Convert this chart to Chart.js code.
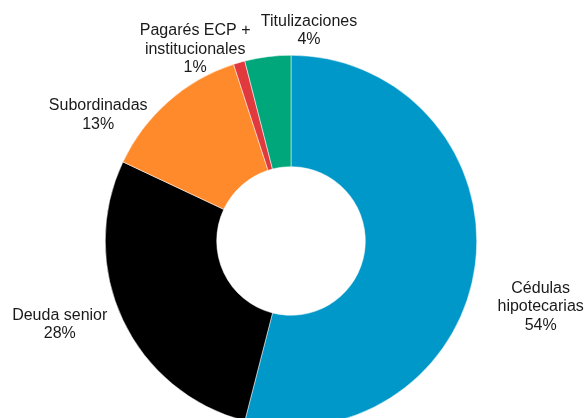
<!DOCTYPE html>
<html>
<head>
<meta charset="utf-8">
<script src="https://cdn.jsdelivr.net/npm/chart.js@4/dist/chart.umd.min.js"></script>
<style>
  html, body { margin: 0; padding: 0; background: #fff; overflow: hidden; }
  #wrap { position: relative; width: 585px; height: 427px; }
</style>
</head>
<body>
<div id="wrap"><canvas id="fundingchart"></canvas></div>
<script>
// Funding mix by instrument
const categories = [
  "Cédulas\nhipotecarias",
  "Deuda senior",
  "Subordinadas",
  "Pagarés ECP +\ninstitucionales",
  "Titulizaciones",
];
const shares = [54, 28, 13, 1, 4];
const sliceColors = ["#0098C9", "#000000", "#FF8A2B", "#E0393E", "#00A77B"];

// label block centres, as multiples of the outer radius from the chart centre
const labelSpots = [
  [1.344, 0.355],
  [-1.245, 0.449],
  [-1.038, -0.677],
  [-0.516, -1.032],
  [0.097, -1.134],
];

const outsideLabels = {
  id: "outsideLabels",
  afterDraw(chart) {
    const ctx = chart.ctx;
    const arc = chart.getDatasetMeta(0).data[0];
    const cx = arc.x, cy = arc.y, r = arc.outerRadius;
    const lineH = 18.5;
    ctx.save();
    ctx.font = '16px "Liberation Sans", Arial, sans-serif';
    ctx.fillStyle = "#1a1a1a";
    ctx.textAlign = "center";
    ctx.textBaseline = "middle";
    categories.forEach((name, i) => {
      const lines = name.split("\n").concat([shares[i] + "%"]);
      const x = cx + labelSpots[i][0] * r;
      const y0 = cy + labelSpots[i][1] * r - ((lines.length - 1) * lineH) / 2;
      lines.forEach((t, k) => ctx.fillText(t, x, y0 + k * lineH));
    });
    ctx.restore();
  },
};

new Chart(document.getElementById("fundingchart"), {
  type: "doughnut",
  data: {
    labels: categories,
    datasets: [
      {
        data: shares,
        backgroundColor: sliceColors,
        borderColor: "#ffffff",
        borderWidth: 0.5,
      },
    ],
  },
  options: {
    responsive: true,
    maintainAspectRatio: false,
    animation: false,
    cutout: "40%",
    layout: { padding: { top: 55, left: 0, right: 3, bottom: 0 } },
    plugins: {
      legend: { display: false },
      tooltip: { enabled: false },
    },
  },
  plugins: [outsideLabels],
});
</script>
</body>
</html>
